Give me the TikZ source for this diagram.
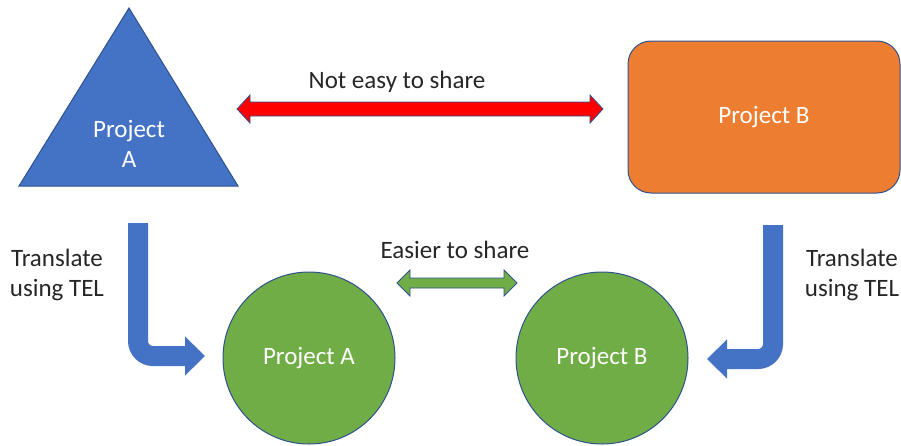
\documentclass[tikz,border=0pt]{standalone}
\usepackage{fontspec}
\setmainfont{Carlito}
\usetikzlibrary{arrows.meta,calc}
\definecolor{offblue}{HTML}{4472C4}
\definecolor{offorange}{HTML}{ED7D31}
\definecolor{offgreen}{HTML}{70AD47}
\definecolor{offline}{HTML}{2F528F}
\definecolor{offtext}{HTML}{262626}
\begin{document}
\begin{tikzpicture}[x=1pt,y=-1pt,font=\fontsize{25}{30}\selectfont,
lbl/.style={text=offtext,align=center},
inner/.style={text=white,align=center},
projbox/.style={draw=offline,line width=1pt,fill=offorange,rounded corners=23pt,minimum width=272pt,minimum height=152pt,inner},
projcirc/.style={circle,draw=offline,line width=1pt,fill=offgreen,minimum size=172pt,inner},
turn/.style={line width=20pt,offblue,rounded corners=15pt,-{Triangle[length=20pt,width=38pt]}},
share/.style={draw=offline,line width=0.8pt}]
\useasboundingbox (0,0) rectangle (901,445);
% project A as triangle, project B as box
\filldraw[draw=offline,fill=offblue,line width=1pt] (19,186) -- (129,8) -- (238,186) -- cycle;
\node[inner] (projA) at (129,144) {Project\\A};
\node[projbox] (projB) at (764,117) {Project B};
% translated versions
\node[projcirc] (telA) at (309,358) {Project A};
\node[projcirc] (telB) at (602,358) {Project B};
% sharing arrows
\coordinate (hardL) at (237,109);
\coordinate (hardR) at (603,109);
\filldraw[share,fill=red] (hardL) -- ++(13,-14) -- ++(0,7) -- ($(hardR)+(-13,-7)$) -- ++(0,-7) -- (hardR)
  -- ++(-13,14) -- ++(0,-7) -- ($(hardL)+(13,7)$) -- ++(0,7) -- cycle;
\node[lbl] (hard) at (397,82) {Not easy to share};
\coordinate (easyL) at (397,283);
\coordinate (easyR) at (517,283);
\filldraw[share,fill=offgreen] (easyL) -- ++(13,-13) -- ++(0,8) -- ($(easyR)+(-13,-5)$) -- ++(0,-8) -- (easyR)
  -- ++(-13,13) -- ++(0,-8) -- ($(easyL)+(13,5)$) -- ++(0,8) -- cycle;
\node[lbl] (easy) at (455,250) {Easier to share};
% translate arrows
\coordinate (fromA) at (138,223);
\coordinate (toA) at (205,356);
\draw[turn] (fromA) |- (toA);
\coordinate (fromB) at (773,225);
\coordinate (toB) at (707,359);
\draw[turn] (fromB) |- (toB);
\node[lbl] (trA) at (57,275) {Translate\\using TEL};
\node[lbl] (trB) at (852,275) {Translate\\using TEL};
\end{tikzpicture}
\end{document}
